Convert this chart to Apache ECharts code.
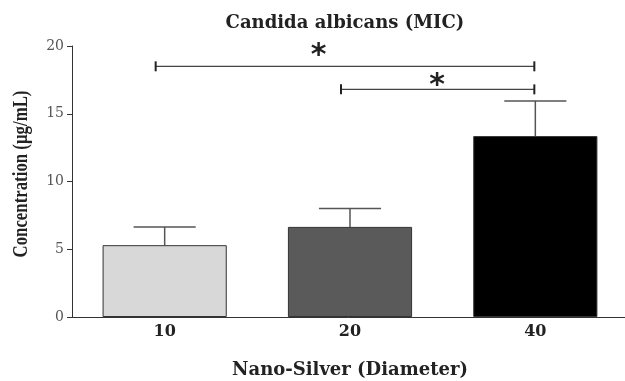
<!DOCTYPE html>
<html>
<head>
<meta charset="utf-8">
<script src="https://cdn.jsdelivr.net/npm/echarts@6/dist/echarts.min.js"></script>
<style>
  html, body { margin: 0; padding: 0; background: #fff; }
  #chart { width: 625px; height: 381px; }
</style>
</head>
<body>
<div id="chart"></div>
<script>
const categories = ['10', '20', '40']
const means = [5.3, 6.65, 13.35]
const upper = [6.65, 8.0, 15.95]
const barColors = ['#d8d8d8', '#5a5a5a', '#000000']
// [from index, to index, y value]
const brackets = [
  [0, 2, 18.5],
  [1, 2, 16.8],
]
// [x position in category units, y value]
const stars = [
  [0.83, 19.7],
  [1.47, 17.5],
]
const yTicks = { min: 0, max: 20, interval: 5 }

const serif = '"DejaVu Serif", "Liberation Serif", serif'

const chart = echarts.init(document.getElementById('chart'))

const option = {
  backgroundColor: '#fff',
  animation: false,
  title: {
    text: 'Candida albicans (MIC)',
    left: 340,
    top: 9,
    textAlign: 'center',
    textStyle: { fontFamily: serif, fontWeight: 'bold', fontSize: 18, color: '#222' },
  },
  // y axis title, squeezed along its length like the original
  graphic: [
    {
      type: 'text',
      x: 22,
      y: 174,
      rotation: Math.PI / 2,
      scaleX: 0.8,
      style: {
        text: 'Concentration (µg/mL)',
        font: 'bold 21px "Liberation Serif", serif',
        fill: '#222',
        textAlign: 'center',
        textVerticalAlign: 'middle',
      },
    },
  ],
  grid: { left: 72, width: 556, top: 46, bottom: 64, outerBoundsMode: 'none', containLabel: false },
  xAxis: {
    type: 'category',
    data: categories,
    name: 'Nano-Silver (Diameter)',
    nameLocation: 'middle',
    nameGap: 44,
    nameTextStyle: { fontFamily: serif, fontWeight: 'bold', fontSize: 18, color: '#222' },
    axisLine: { lineStyle: { color: '#333', width: 1 } },
    axisTick: { alignWithLabel: true, length: 5, lineStyle: { color: '#333' } },
    axisLabel: { fontFamily: serif, fontWeight: 'bold', fontSize: 16, color: '#222', margin: 7 },
  },
  yAxis: {
    type: 'value',
    min: yTicks.min,
    max: yTicks.max,
    interval: yTicks.interval,
    axisLine: { show: true, lineStyle: { color: '#333', width: 1 } },
    axisTick: { show: true, length: 5, lineStyle: { color: '#333' } },
    axisLabel: { fontFamily: serif, fontSize: 14, color: '#555', margin: 8 },
    splitLine: { show: false },
  },
  series: [
    {
      type: 'bar',
      barWidth: '67%',
      data: means.map((v, i) => ({
        value: v,
        itemStyle: { color: barColors[i], borderColor: '#333', borderWidth: 1 },
      })),
      z: 2,
    },
    {
      // error bars (upper only)
      type: 'custom',
      z: 3,
      data: means.map((v, i) => [i, v, upper[i]]),
      renderItem(params, api) {
        const base = api.coord([api.value(0), api.value(1)])
        const top = api.coord([api.value(0), api.value(2)])
        const half = api.size([1, 0])[0] * 0.67 / 4
        const style = { stroke: '#555', lineWidth: 1.5 }
        return {
          type: 'group',
          children: [
            { type: 'line', shape: { x1: base[0], y1: base[1], x2: top[0], y2: top[1] }, style },
            { type: 'line', shape: { x1: top[0] - half, y1: top[1], x2: top[0] + half, y2: top[1] }, style },
          ],
        }
      },
    },
    {
      // significance brackets
      type: 'custom',
      z: 3,
      data: brackets,
      renderItem(params, api) {
        const a = api.coord([api.value(0), api.value(2)])
        const b = api.coord([api.value(1), api.value(2)])
        const x1 = a[0] - 9
        const x2 = b[0] - 1
        const style = { stroke: '#444', lineWidth: 1.2 }
        return {
          type: 'group',
          children: [
            { type: 'line', shape: { x1, y1: a[1], x2, y2: a[1] }, style },
            { type: 'line', shape: { x1, y1: a[1] - 5, x2: x1, y2: a[1] + 5 }, style: { stroke: '#222', lineWidth: 2 } },
            { type: 'line', shape: { x1: x2, y1: a[1] - 5, x2, y2: a[1] + 5 }, style: { stroke: '#222', lineWidth: 2 } },
          ],
        }
      },
    },
    {
      // asterisks
      type: 'custom',
      z: 4,
      data: stars,
      renderItem(params, api) {
        const xv = api.value(0)
        const i0 = Math.floor(xv)
        const p0 = api.coord([i0, api.value(1)])
        const p1 = api.coord([i0 + 1, api.value(1)])
        const x = p0[0] + (p1[0] - p0[0]) * (xv - i0)
        return {
          type: 'text',
          style: {
            text: '*',
            x,
            y: p0[1] + 6,
            textAlign: 'center',
            textVerticalAlign: 'middle',
            font: 'bold 30px "DejaVu Sans", sans-serif',
            fill: '#222',
          },
        }
      },
    },
  ],
}

chart.setOption(option)
</script>
</body>
</html>
